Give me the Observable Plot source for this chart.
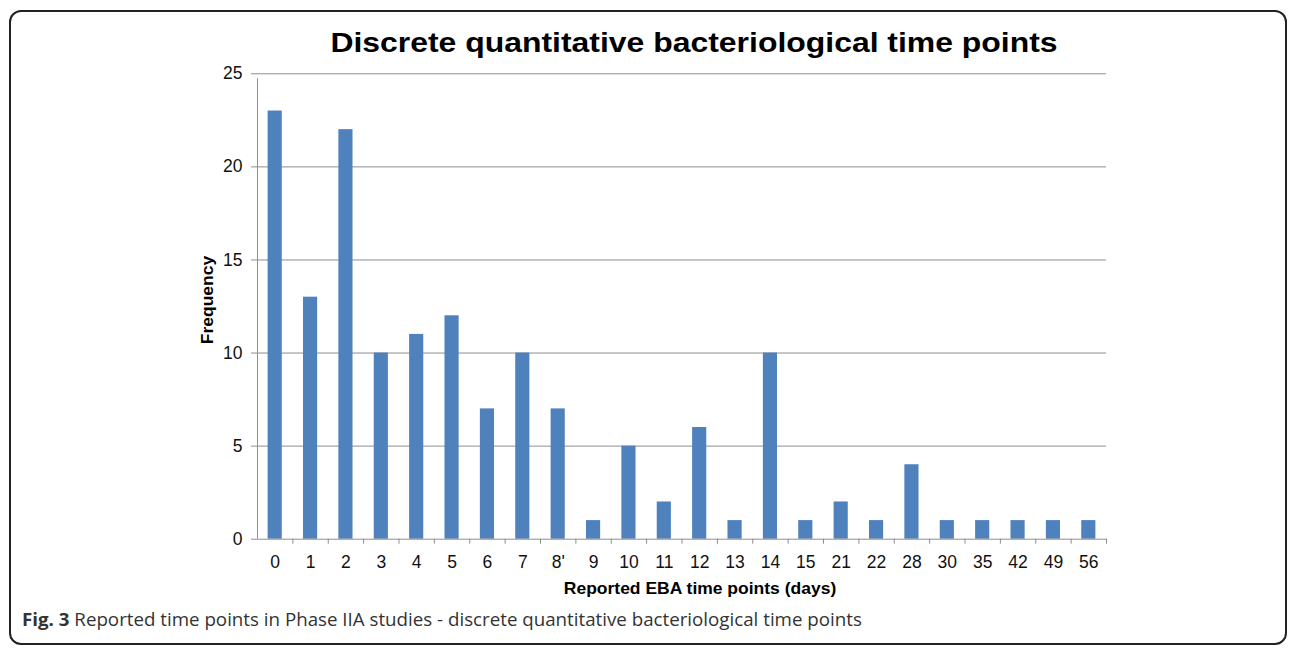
<!DOCTYPE html>
<html>
<head>
<meta charset="utf-8">
<script src="https://cdn.jsdelivr.net/npm/d3@7"></script>
<script src="https://cdn.jsdelivr.net/npm/@observablehq/plot@0.6"></script>
<style>
  html, body { margin: 0; padding: 0; background: #fff; }
  #wrap { position: relative; width: 1295px; height: 650px; overflow: hidden; font-family: "Liberation Sans", Arial, sans-serif; }
  #border { position: absolute; left: 9px; top: 10px; width: 1278px; height: 635px; border: 2px solid #222; border-radius: 12px; box-sizing: border-box; }
  #title { position: absolute; top: 28px; left: 694px; transform: translateX(-50%) scaleX(1.12); white-space: nowrap; font-size: 28.5px; line-height: 1; font-weight: bold; color: #000; }
  #xlabel { position: absolute; top: 579.5px; left: 699.5px; transform: translateX(-50%) scaleX(1.06); white-space: nowrap; font-size: 16.5px; line-height: 1; font-weight: bold; color: #000; }
  #ylabel { position: absolute; top: 299.5px; left: 206.5px; transform: translate(-50%, -50%) rotate(-90deg) scaleX(1.06); white-space: nowrap; font-size: 16.5px; line-height: 1; font-weight: bold; color: #000; }
  #caption { position: absolute; top: 611px; left: 22px; transform-origin: 0 50%; transform: scaleX(1.07); white-space: nowrap; font-family: "Open Sans", sans-serif; font-size: 17.5px; line-height: 1; color: #333; }
  #chart { position: absolute; left: 0; top: 60px; }
</style>
</head>
<body>
<div id="wrap">
  <div id="border"></div>
  <div id="title">Discrete quantitative bacteriological time points</div>
  <div id="chart"></div>
  <div id="ylabel">Frequency</div>
  <div id="xlabel">Reported EBA time points (days)</div>
  <div id="caption"><b>Fig. 3</b> Reported time points in Phase IIA studies - discrete quantitative bacteriological time points</div>
</div>
<script>
const categories = ["0","1","2","3","4","5","6","7","8'","9","10","11","12","13","14","15","21","22","28","30","35","42","49","56"];
const frequency = [23,13,22,10,11,12,7,10,7,1,5,2,6,1,10,1,2,1,4,1,1,1,1,1];
const yTicks = [0,5,10,15,20,25];

const data = categories.map((c, i) => ({day: c, freq: frequency[i]}));

const width = 1295, height = 540;
const marginLeft = 257, marginRight = 189, marginTop = 13.3, marginBottom = 61.3;
const step = (width - marginLeft - marginRight) / categories.length;
const axisColor = "#8e8e8e";
const tickFont = "17.5px";

const chart = Plot.plot({
  width, height, marginLeft, marginRight, marginTop, marginBottom,
  style: {fontFamily: "'Liberation Sans', Arial, sans-serif", fontSize: tickFont, color: "#111", background: "transparent"},
  x: {domain: categories, paddingInner: 0.6, paddingOuter: 0.3, round: false, label: null},
  y: {domain: [0, 25], label: null},
  marks: [
    Plot.ruleY(yTicks.filter(d => d > 0), {stroke: axisColor, strokeWidth: 1}),
    Plot.barY(data, {x: "day", y: "freq", fill: "#4f81bd"}),
    Plot.ruleY([0], {stroke: axisColor, strokeWidth: 1}),
    Plot.ruleX([categories[0]], {y1: 0, y2: 25, dx: -step / 2, stroke: axisColor, strokeWidth: 1, insetBottom: -5}),
    Plot.ruleX(categories, {y1: 0, y2: 0, dx: step / 2, insetBottom: -5, stroke: axisColor, strokeWidth: 1}),
    Plot.axisX({tickSize: 0, tickPadding: 16.5, label: null}),
    Plot.axisY({ticks: yTicks, tickSize: 6, tickPadding: 9, stroke: axisColor, label: null})
  ]
});
d3.select(chart).selectAll("text").style("font-size", tickFont);
document.getElementById("chart").appendChild(chart);
</script>
</body>
</html>
